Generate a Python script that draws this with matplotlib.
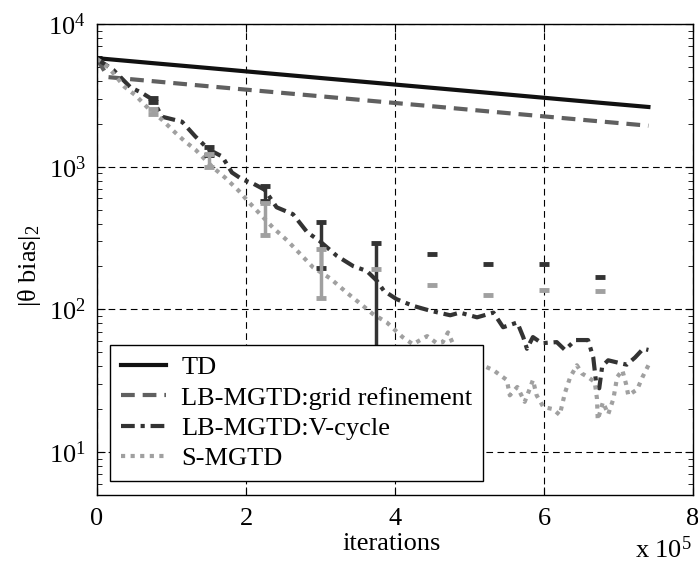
import numpy as np
import matplotlib
matplotlib.use('Agg')
import matplotlib.pyplot as plt
from matplotlib.ticker import LogLocator, NullFormatter, FixedLocator

plt.rcParams['font.family'] = ['Liberation Serif', 'DejaVu Serif']
plt.rcParams['mathtext.fontset'] = 'custom'
plt.rcParams['mathtext.rm'] = 'Liberation Serif'
plt.rcParams['mathtext.it'] = 'Liberation Serif:italic'
plt.rcParams['font.size'] = 19

# iterations are in units of 1e5
td_x = [0, 0.75, 1.5, 2.25, 3.0, 3.75, 4.5, 5.25, 6.0, 6.75, 7.4]
td_y = [5770, 5325, 4920, 4540, 4190, 3870, 3575, 3300, 3045, 2810, 2625]

grid_x = [0, 0.15, 0.75, 1.5, 2.25, 3.0, 3.75, 4.5, 5.25, 6.0, 6.75, 7.4]
grid_y = [5700, 4250, 3980, 3665, 3380, 3120, 2875, 2655, 2445, 2255, 2080, 1940]

vcyc_x = [0, 0.22, 0.45, 0.6, 0.75, 0.87, 1.14, 1.32, 1.5, 1.68, 1.81, 1.95, 2.1,
          2.25, 2.41, 2.63, 2.82, 2.99, 3.22, 3.44, 3.62, 3.75, 3.85, 4.02, 4.24,
          4.47, 4.74, 4.87, 5.1, 5.32, 5.45, 5.64, 5.72, 5.77, 5.85, 5.97, 6.17,
          6.28, 6.42, 6.59, 6.66, 6.70, 6.74, 6.78, 6.86, 7.02, 7.11, 7.22, 7.33, 7.4]
vcyc_y = [5700, 4770, 3600, 3300, 2950, 2245, 2070, 1630, 1320, 1180, 912, 815, 760,
          690, 520, 465, 348, 301, 237, 201, 186, 160, 135, 118, 106,
          98, 91, 95, 88, 95, 75, 81, 64, 53, 64, 58, 59,
          52, 61, 61, 46, 30, 28, 40, 44, 42, 41, 46, 53, 52]

smg_x = [0, 0.15, 0.37, 0.51, 0.71, 0.87, 1.05, 1.18, 1.32, 1.41, 1.56, 1.72, 1.9,
         2.03, 2.19, 2.36, 2.55, 2.72, 2.9, 3.13, 3.36, 3.56, 3.7, 3.89, 4.1, 4.24,
         4.43, 4.56, 4.64, 4.71, 4.78, 4.9, 5.05, 5.2, 5.32, 5.5, 5.54, 5.64, 5.68,
         5.74, 5.81, 5.85, 5.9, 5.99, 6.12, 6.21, 6.28, 6.35, 6.44, 6.51, 6.59, 6.68,
         6.71, 6.72, 6.79, 6.86, 6.93, 6.98, 7.05, 7.1, 7.13, 7.25, 7.32, 7.4]
smg_y = [5700, 5000, 3630, 3190, 2500, 2140, 1735, 1505, 1320, 1180, 985, 838, 680,
         570, 465, 375, 305, 247, 197, 165, 130, 107, 93, 81, 64, 57,
         65, 58, 59, 69, 57, 48, 42, 40, 37.5, 32, 25, 28.6, 26,
         22.5, 28, 32, 25, 20.7, 20, 18.2, 26, 33.5, 40.6, 35.5, 33.5, 31,
         23.6, 16.8, 22.4, 18.4, 23.6, 33.5, 37.5, 30, 25, 27.5, 33.5, 40.6]

# error bars (mean, half width)
err_x = [0.75, 1.5, 2.25, 3.0, 3.75, 4.5, 5.25, 6.0, 6.75]
vcyc_mean = [2950, 1300, 658, 301, 150, 96, 90, 58, 40]
vcyc_err = [100, 85, 79, 106, 140, 147, 117, 149, 128]
smg_mean = [2450, 1115, 445, 192, 88, 60, 38, 20, 25]
smg_err = [100, 116, 115, 72, 105, 88, 88, 116, 109]

c_td = '#111111'
c_grid = '#606060'
c_vcyc = '#333333'
c_smg = '#a0a0a0'

fig = plt.figure(figsize=(6.98, 5.66), dpi=100)
ax = fig.add_axes([0.139, 0.1254, 0.854, 0.832])

ax.plot(td_x, td_y, color=c_td, lw=3, label='TD')
ax.plot(grid_x, grid_y, color=c_grid, lw=3, linestyle=(0, (3.3, 1.9)),
        label='LB-MGTD:grid refinement')
ax.plot(vcyc_x, vcyc_y, color=c_vcyc, lw=3, linestyle=(0, (3.3, 1.4, 1.0, 1.4)),
        label='LB-MGTD:V-cycle')
ax.plot(smg_x, smg_y, color=c_smg, lw=3, linestyle=(0, (1.0, 1.3)), label='S-MGTD')


def draw_err(xs, means, errs, color):
    for x, m, e in zip(xs, means, errs):
        hi = m + e
        lo = m - e
        if lo > 0:
            ax.vlines(x, lo, hi, color=color, lw=2.5, zorder=3)
            ax.plot([x, x], [lo, hi], linestyle='none', marker='_', ms=7, mew=3.5,
                    color=color, zorder=3)
        else:
            ax.plot([x], [hi], linestyle='none', marker='_', ms=7, mew=3.5,
                    color=color, zorder=3)


draw_err(err_x, vcyc_mean, vcyc_err, c_vcyc)
draw_err(err_x, smg_mean, smg_err, c_smg)

ax.set_yscale('log')
ax.set_xlim(0, 8)
ax.set_ylim(5, 1e4)
ax.xaxis.set_major_locator(FixedLocator([0, 2, 4, 6, 8]))
ax.yaxis.set_major_locator(LogLocator(base=10))
ax.yaxis.set_minor_locator(LogLocator(base=10, subs=np.arange(2, 10)))
ax.yaxis.set_minor_formatter(NullFormatter())

ax.tick_params(which='both', direction='in', top=True, right=True)
ax.tick_params(which='major', length=6, width=0.8)
ax.tick_params(which='minor', length=3.5, width=0.6)
ax.tick_params(axis='y', pad=8)
ax.tick_params(axis='x', pad=9)
for s in ax.spines.values():
    s.set_linewidth(1.0)

ax.grid(True, which='major', color='black', lw=0.8, linestyle=(0, (6, 4)))

ax.set_ylabel('|\u03b8 bias|$_2$')
ax.yaxis.set_label_coords(-0.09, 0.488)
ax.set_xlabel('iterations')
ax.xaxis.set_label_coords(0.495, -0.08)
fig.text(0.91, 0.014, 'x 10$^5$', ha='left', va='baseline')

leg = ax.legend(loc='lower left', bbox_to_anchor=(0.022, 0.03), borderaxespad=0,
                fancybox=False, framealpha=1, edgecolor='black',
                handlelength=1.7, handletextpad=0.6, labelspacing=0.26,
                borderpad=0.4)
leg.get_frame().set_linewidth(1.0)

fig.savefig('out.png', dpi=100)
